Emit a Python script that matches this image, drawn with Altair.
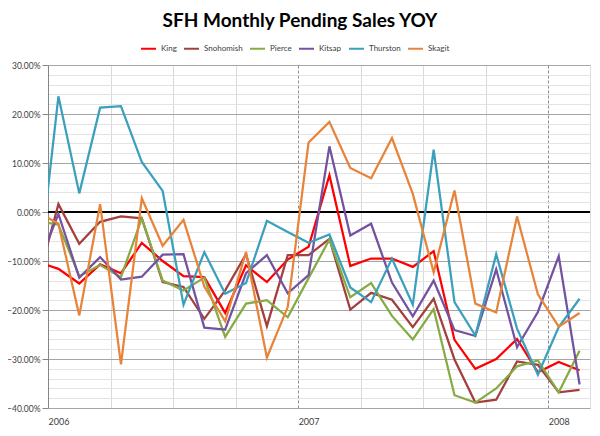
import altair as alt
import pandas as pd

# Month index: -1 = Dec 2005 (clipped at the left edge), 0 = Jan 2006 ... 25 = Feb 2008
month_index = list(range(-1, 26))

series_names = ["King", "Snohomish", "Pierce", "Kitsap", "Thurston", "Skagit"]
series_colors = ["#ff0000", "#a33f3d", "#86ab45", "#7352a0", "#3aa0bc", "#e8843a"]

king = [-10.2, -11.6, -14.6, -10.7, -12.5, -6.3, -10.0, -13.1, -13.3, -20.6, -10.9,
        -14.3, -9.7, -7.1, 7.5, -11.0, -9.5, -9.5, -11.2, -8.0, -26.1, -32.0,
        -30.0, -25.9, -32.7, -30.6, -32.3]
snohomish = [-14.2, 1.6, -6.5, -2.0, -0.9, -1.3, -14.3, -15.3, -21.8, -16.0, -8.6,
             -23.3, -8.8, -8.8, -5.5, -19.9, -16.5, -17.9, -23.5, -17.7, -30.1, -38.9,
             -38.3, -30.5, -31.2, -36.8, -36.3]
pierce = [-1.8, -2.6, -13.1, -10.8, -13.3, -1.3, -14.0, -16.0, -13.4, -25.5, -18.7,
          -18.0, -21.5, -13.5, -5.6, -17.4, -14.5, -21.2, -26.0, -19.8, -37.4, -38.9,
          -36.0, -31.5, -30.3, -36.8, -28.3]
kitsap = [-11.2, -0.4, -13.4, -9.2, -13.8, -13.2, -8.7, -8.6, -23.6, -24.0, -12.5,
          -8.8, -16.6, -12.9, 13.4, -4.8, -2.4, -14.4, -21.3, -14.0, -24.1, -25.3,
          -11.7, -27.6, -20.4, -9.0, -35.2]
thurston = [-14.0, 23.6, 3.8, 21.3, 21.6, 10.2, 4.3, -18.9, -8.2, -16.7, -14.5,
            -1.8, -4.1, -6.3, -4.6, -15.4, -18.4, -9.5, -18.9, 12.7, -18.4, -25.2,
            -8.6, -23.8, -33.2, -23.5, -17.7]
skagit = [0.0, -2.4, -21.1, 1.6, -31.1, 2.8, -6.9, -1.6, -15.2, -22.3, -8.2,
          -29.7, -19.4, 14.2, 18.4, 9.0, 6.9, 15.1, 3.7, -12.3, 4.4, -18.7,
          -20.5, -0.9, -16.8, -23.4, -20.6]

all_values = [king, snohomish, pierce, kitsap, thurston, skagit]

rows = []
for name, vals in zip(series_names, all_values):
    for m, v in zip(month_index, vals):
        rows.append({"series": name, "month": m + 0.5, "value": v})
df = pd.DataFrame(rows)

FONT = "Lato"
TXT = "#404040"

x_axis = alt.Axis(
    values=list(range(0, 25, 3)),
    labelExpr="datum.value % 12 === 0 ? '' + (2006 + datum.value / 12) : ''",
    labelAlign="left",
    labelBaseline="top",
    labelFlush=False,
    labelPadding=9,
    labelFont=FONT,
    labelFontSize=9,
    labelColor=TXT,
    ticks=False,
    domain=False,
    title=None,
    grid=True,
    gridColor={"condition": {"test": "datum.value % 12 === 0 && datum.value > 0", "value": "#8c8c8c"}, "value": "#dadada"},
    gridDash={"condition": {"test": "datum.value % 12 === 0 && datum.value > 0", "value": [3, 2]}, "value": []},
    gridWidth=1,
)

y_axis = alt.Axis(
    values=list(range(-40, 31, 2)),
    labelExpr="datum.value % 10 === 0 ? format(datum.value, '.2f') + '%' : ''",
    labelFont=FONT,
    labelFontSize=8.5,
    labelColor=TXT,
    labelPadding=2,
    tickSize=6,
    tickColor={"condition": {"test": "datum.value % 10 === 0", "value": "#868686"}, "value": "transparent"},
    domain=True,
    domainColor="#868686",
    title=None,
    grid=True,
    gridColor={"condition": {"test": "datum.value % 10 === 0", "value": "#a6a6a6"}, "value": "#e3e3e3"},
    gridWidth=1,
)

x_scale = alt.Scale(domain=[0, 26], nice=False, zero=False)
y_scale = alt.Scale(domain=[-40, 30], nice=False, zero=False)

zero_line = alt.Chart(pd.DataFrame({"z": [0]})).mark_rule(color="black", strokeWidth=2).encode(
    y=alt.Y("z:Q", scale=y_scale, axis=y_axis)
)

lines = alt.Chart(df).mark_line(strokeWidth=2.25, clip=True).encode(
    x=alt.X("month:Q", scale=x_scale, axis=x_axis),
    y=alt.Y("value:Q", scale=y_scale, axis=y_axis),
    color=alt.Color(
        "series:N",
        sort=series_names,
        scale=alt.Scale(domain=series_names, range=series_colors),
        legend=alt.Legend(
            orient="none",
            legendX=92,
            legendY=-25,
            direction="horizontal",
            title=None,
            symbolType="stroke",
            symbolSize=225,
            symbolStrokeWidth=2,
            labelFont=FONT,
            labelFontSize=8,
            labelColor=TXT,
            labelOffset=4,
            columnPadding=3,
            padding=0,
        ),
    ),
    detail="series:N",
)

chart = alt.layer(zero_line, lines).properties(
    width=542,
    height=343,
    autosize=alt.AutoSizeParams(type="none"),
    padding={"left": 40, "top": 57, "right": 2, "bottom": 20},
    title=alt.TitleParams(
        text="SFH Monthly Pending Sales YOY",
        font=FONT,
        fontSize=19,
        fontWeight="bold",
        color="black",
        anchor="middle",
        dx=-19,
        offset=9,
    ),
).configure_view(stroke=None).configure(background="white")

chart.save("out.html", embed_options={"renderer": "svg", "actions": False})
